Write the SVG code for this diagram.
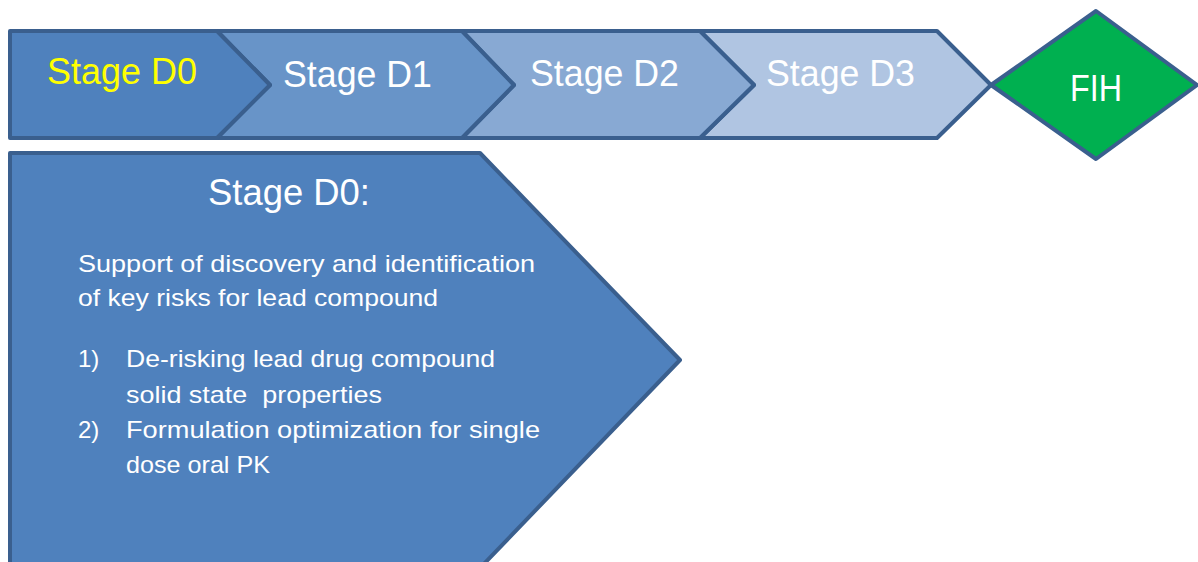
<svg xmlns="http://www.w3.org/2000/svg" width="1198" height="562" viewBox="0 0 1198 562">
<style>
.sh{stroke:#3A5F8E;stroke-width:4;stroke-linejoin:round}
.t{font-family:"Liberation Sans",Arial,sans-serif;fill:#FFFFFF}
.big{font-size:36px}
.body{font-size:24px}
</style>
<rect width="1198" height="562" fill="#FFFFFF"/>
<g id="fih">
<polygon class="sh" points="991,85 1096,11 1197,85 1096,159" fill="#00B050"/>
<text class="t" x="1096" y="101" font-size="37" text-anchor="middle" textLength="52" lengthAdjust="spacingAndGlyphs">FIH</text>
</g>
<g id="d3">
<polygon class="sh" points="700,31 937,31 991,85 937,138 700,138 754,85" fill="#B0C5E2"/>
<text class="t big" x="766" y="86" textLength="149" lengthAdjust="spacingAndGlyphs">Stage D3</text>
</g>
<g id="d2">
<polygon class="sh" points="462,31 700,31 754,85 700,138 462,138 514,85" fill="#88A9D3"/>
<text class="t big" x="530" y="86" textLength="149" lengthAdjust="spacingAndGlyphs">Stage D2</text>
</g>
<g id="d1">
<polygon class="sh" points="217,31 462,31 514,85 462,138 217,138 270,85" fill="#6894C8"/>
<text class="t big" x="283" y="87" textLength="149" lengthAdjust="spacingAndGlyphs">Stage D1</text>
</g>
<g id="d0">
<polygon class="sh" points="10,31 217,31 270,85 217,138 10,138" fill="#4F81BD"/>
<text class="t big" x="47" y="84" style="fill:#FFFF00" textLength="150" lengthAdjust="spacingAndGlyphs">Stage D0</text>
</g>
<g id="detail">
<polygon class="sh" points="10,153 480,153 680,360 480,568 10,568" fill="#4F81BD"/>
<text class="t big" x="208" y="205" textLength="162" lengthAdjust="spacingAndGlyphs">Stage D0:</text>
<text class="t body" x="78" y="272" textLength="457" lengthAdjust="spacingAndGlyphs">Support of discovery and identification</text>
<text class="t body" x="78" y="306" textLength="360" lengthAdjust="spacingAndGlyphs">of key risks for lead compound</text>
<text class="t body" x="78" y="367">1)</text>
<text class="t body" x="126" y="367" textLength="369" lengthAdjust="spacingAndGlyphs">De-risking lead drug compound</text>
<text class="t body" x="126" y="403" textLength="256" lengthAdjust="spacingAndGlyphs" xml:space="preserve">solid state  properties</text>
<text class="t body" x="78" y="438">2)</text>
<text class="t body" x="126" y="438" textLength="414" lengthAdjust="spacingAndGlyphs">Formulation optimization for single</text>
<text class="t body" x="126" y="473" textLength="144" lengthAdjust="spacingAndGlyphs">dose oral PK</text>
</g>
<g id="connectors"></g>
</svg>
